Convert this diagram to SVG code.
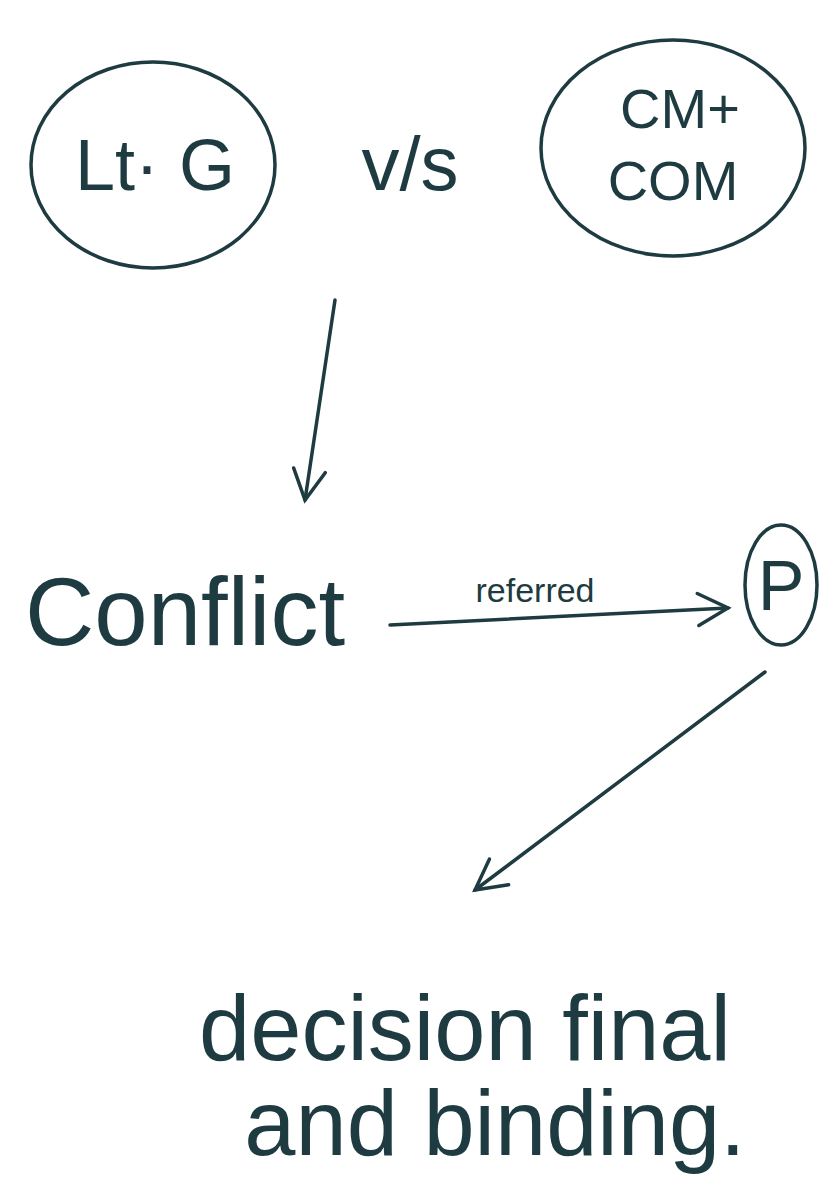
<svg xmlns="http://www.w3.org/2000/svg" width="836" height="1183" viewBox="0 0 836 1183">
<style>
.ink{fill:none;stroke:#1d3b40;stroke-width:3.5;stroke-linecap:round;stroke-linejoin:round}
.t{font-family:"Liberation Sans","DejaVu Sans",sans-serif;fill:#1d3b40}
</style>
<defs>
<marker id="ah" viewBox="0 0 20 20" refX="18" refY="10" markerWidth="12" markerHeight="12" markerUnits="userSpaceOnUse" orient="auto">
<path d="M2,2 L18,10 L2,18" fill="none" stroke="#1d3b40" stroke-width="2"/>
</marker>
<marker id="ah2" viewBox="0 0 40 40" refX="36" refY="20" markerWidth="40" markerHeight="40" markerUnits="userSpaceOnUse" orient="auto">
<path d="M6,4 L36,20 L6,36" fill="none" stroke="#1d3b40" stroke-width="3.5" stroke-linecap="round"/>
</marker>
</defs>
<rect width="836" height="1183" fill="#ffffff"/>
<g id="node-ltg">
<ellipse class="ink" cx="153" cy="165" rx="122" ry="103"/>
<text class="t" x="155" y="190" font-size="72" text-anchor="middle">Lt· G</text>
</g>
<g id="label-vs">
<text class="t" x="410" y="190" font-size="76" text-anchor="middle">v/s</text>
</g>
<g id="node-cm">
<ellipse class="ink" cx="673" cy="148" rx="132" ry="108"/>
<text class="t" x="680" y="128" font-size="56" text-anchor="middle">CM+</text>
<text class="t" x="673" y="200" font-size="56" text-anchor="middle">COM</text>
</g>
<g id="node-conflict">
<text class="t" x="25" y="645" font-size="96">Conflict</text>
</g>
<g id="node-p">
<ellipse class="ink" cx="781" cy="585" rx="36" ry="60"/>
<text class="t" x="781" y="610" font-size="70" text-anchor="middle">P</text>
</g>
<g id="node-decision">
<text class="t" x="465" y="1060" font-size="92" text-anchor="middle">decision final</text>
<text class="t" x="495" y="1155" font-size="92" text-anchor="middle">and binding.</text>
</g>
<g id="connectors">
<path class="ink" d="M335,300 L305,500" marker-end="url(#ah2)"/>
<path class="ink" d="M390,625 L728,608" marker-end="url(#ah2)"/>
<text class="t" x="535" y="602" font-size="34" text-anchor="middle">referred</text>
<path class="ink" d="M765,672 L475,890" marker-end="url(#ah2)"/>
</g>
</svg>
